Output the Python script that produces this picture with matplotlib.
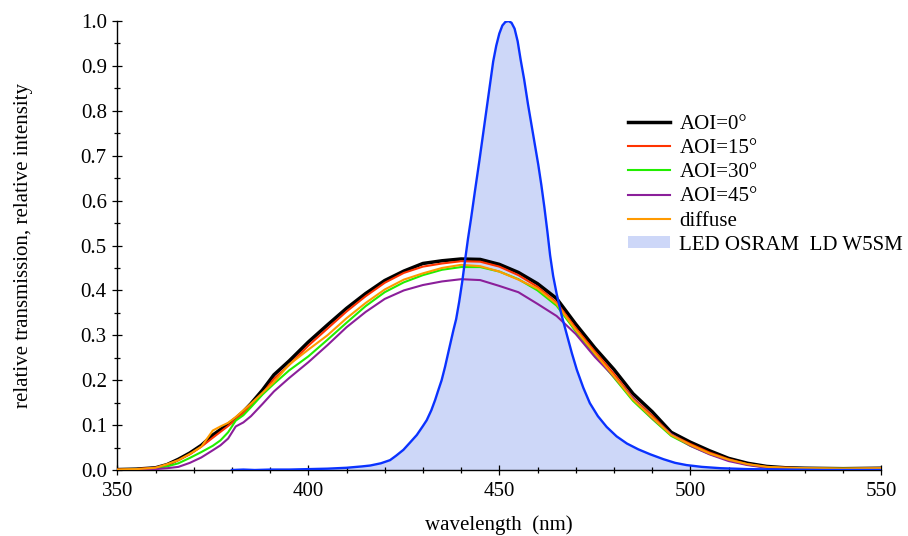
import matplotlib
matplotlib.use("Agg")
import matplotlib.pyplot as plt
from matplotlib.patches import Patch
from matplotlib.lines import Line2D
from matplotlib.ticker import MultipleLocator

plt.rcParams['font.family'] = ['Liberation Serif', 'DejaVu Serif']

# wavelength grid for the filter transmission curves (nm)
wl = [350, 355, 360, 363, 366, 369, 372, 375, 377, 379, 381, 383, 385, 388,
      391, 395, 400, 405, 410, 415, 420, 425, 430, 435, 440, 445, 450, 455,
      460, 465, 470, 475, 480, 485, 490, 495, 500, 505, 510, 515, 520, 525,
      530, 540, 550]

aoi0 = [0.001, 0.002, 0.005, 0.012, 0.024, 0.038, 0.055, 0.078, 0.090, 0.102,
        0.115, 0.130, 0.148, 0.178, 0.212, 0.243, 0.285, 0.323, 0.360, 0.393,
        0.422, 0.443, 0.460, 0.466, 0.470, 0.469, 0.458, 0.440, 0.415, 0.382,
        0.325, 0.272, 0.224, 0.170, 0.130, 0.084, 0.062, 0.043, 0.026, 0.015,
        0.008, 0.005, 0.004, 0.003, 0.004]

aoi15 = [0.001, 0.002, 0.005, 0.011, 0.022, 0.035, 0.052, 0.072, 0.085, 0.098,
         0.112, 0.127, 0.143, 0.170, 0.203, 0.234, 0.277, 0.315, 0.353, 0.387,
         0.417, 0.439, 0.453, 0.460, 0.465, 0.464, 0.453, 0.434, 0.408, 0.373,
         0.316, 0.264, 0.214, 0.161, 0.121, 0.079, 0.058, 0.039, 0.024, 0.013,
         0.007, 0.005, 0.004, 0.003, 0.004]

aoi30 = [0.000, 0.001, 0.003, 0.008, 0.015, 0.027, 0.040, 0.054, 0.066, 0.084,
         0.110, 0.122, 0.140, 0.168, 0.192, 0.222, 0.253, 0.290, 0.328, 0.365,
         0.396, 0.418, 0.434, 0.446, 0.452, 0.452, 0.442, 0.425, 0.400, 0.366,
         0.309, 0.257, 0.206, 0.154, 0.114, 0.076, 0.054, 0.036, 0.022, 0.012,
         0.006, 0.004, 0.003, 0.003, 0.003]

aoi45 = [0.000, 0.000, 0.002, 0.004, 0.007, 0.016, 0.028, 0.044, 0.055, 0.070,
         0.097, 0.106, 0.120, 0.147, 0.175, 0.205, 0.240, 0.278, 0.318, 0.352,
         0.381, 0.400, 0.412, 0.420, 0.425, 0.423, 0.410, 0.396, 0.370, 0.343,
         0.303, 0.252, 0.208, 0.160, 0.116, 0.080, 0.054, 0.035, 0.020, 0.011,
         0.005, 0.003, 0.002, 0.002, 0.003]

diffuse = [0.001, 0.002, 0.005, 0.013, 0.022, 0.036, 0.052, 0.088, 0.097,
           0.105, 0.118, 0.133, 0.148, 0.172, 0.196, 0.235, 0.268, 0.300,
           0.338, 0.372, 0.402, 0.424, 0.438, 0.450, 0.457, 0.454, 0.442,
           0.424, 0.404, 0.370, 0.312, 0.260, 0.209, 0.157, 0.117, 0.078,
           0.056, 0.037, 0.023, 0.013, 0.007, 0.005, 0.004, 0.003, 0.004]

# LED spectrum (OSRAM LD W5SM), normalised
led_wl = [380, 383, 386, 390, 395, 400, 405, 410, 414, 416.2, 419, 421.4,
          423, 424.9, 426.5, 428.4, 430, 431, 432.2, 433.2, 434, 434.9,
          435.8, 436.6, 437.3, 438, 438.7, 439.5, 440.3, 441, 441.8, 442.6,
          443.6, 444.8, 445.7, 446.6, 447.5, 448.4, 449.2, 450, 450.8, 451.6,
          452.4, 453.2, 454, 454.8, 455.6, 456.5, 457.5, 458.5, 459.3, 460.2,
          461, 461.8, 462.6, 463.3, 464.1, 465, 466.3, 467.6, 469, 470.3,
          472, 473.7, 475.8, 478.1, 480.7, 483.4, 486.4, 489.5, 493, 496,
          499, 503, 508, 515, 525, 535, 550]
led = [0.000, 0.001, 0.000, 0.001, 0.001, 0.002, 0.003, 0.005, 0.008, 0.010,
       0.015, 0.022, 0.032, 0.045, 0.060, 0.078, 0.098, 0.111, 0.133, 0.156,
       0.177, 0.200, 0.230, 0.260, 0.286, 0.312, 0.336, 0.375, 0.420, 0.465,
       0.515, 0.560, 0.620, 0.690, 0.745, 0.800, 0.855, 0.910, 0.945, 0.972,
       0.990, 0.998, 1.000, 0.996, 0.983, 0.955, 0.913, 0.870, 0.815, 0.765,
       0.725, 0.680, 0.635, 0.585, 0.530, 0.478, 0.432, 0.393, 0.345, 0.304,
       0.260, 0.223, 0.183, 0.149, 0.120, 0.096, 0.075, 0.059, 0.046, 0.035,
       0.024, 0.016, 0.011, 0.007, 0.004, 0.002, 0.001, 0.000, 0.000]

labels = ['AOI=0°', 'AOI=15°', 'AOI=30°', 'AOI=45°', 'diffuse',
          'LED OSRAM  LD W5SM']


def main():
    fig = plt.figure(figsize=(9.08, 5.36), dpi=100)
    ax = fig.add_axes([0.1292, 0.1231, 0.8414, 0.8377])

    # LED spectrum as shaded area
    ax.fill_between(led_wl, led, 0, color='#cdd7f8', lw=0, zorder=1)

    ax.plot(wl, aoi0, color='black', lw=2.5, zorder=2)
    ax.plot(wl, aoi15, color='#ff3300', lw=1.5, zorder=3)
    ax.plot(wl, aoi30, color='#22ee00', lw=1.5, zorder=3)
    ax.plot(wl, aoi45, color='#8b1f9a', lw=1.5, zorder=3)
    ax.plot(wl, diffuse, color='#ff9a00', lw=1.5, zorder=4)
    ax.plot(led_wl, led, color='#0a32ff', lw=1.7, zorder=5)

    ax.set_xlim(350, 550)
    ax.set_ylim(0, 1.0)
    ax.xaxis.set_major_locator(MultipleLocator(50))
    ax.xaxis.set_minor_locator(MultipleLocator(10))
    ax.yaxis.set_major_locator(MultipleLocator(0.1))
    ax.yaxis.set_minor_locator(MultipleLocator(0.05))
    ax.yaxis.set_major_formatter(plt.FormatStrFormatter('%.1f'))

    for s in ['top', 'right']:
        ax.spines[s].set_visible(False)
    for s in ['left', 'bottom']:
        ax.spines[s].set_linewidth(1.0)
    ax.tick_params(which='major', direction='inout', length=7.2, width=0.9,
                   labelsize=15)
    ax.tick_params(which='minor', direction='inout', length=3.8, width=0.9)
    ax.tick_params(axis='x', which='major', pad=5)
    ax.tick_params(axis='y', which='major', pad=4)

    ax.set_xlabel('wavelength  (nm)', fontsize=15, labelpad=10)
    ax.set_ylabel('relative transmission, relative intensity', fontsize=15,
                  labelpad=34)

    handles = [Line2D([], [], color='black', lw=2.5),
               Line2D([], [], color='#ff3300', lw=1.5),
               Line2D([], [], color='#22ee00', lw=1.5),
               Line2D([], [], color='#8b1f9a', lw=1.5),
               Line2D([], [], color='#ff9a00', lw=1.5),
               Patch(facecolor='#cdd7f8', edgecolor='none')]
    fig.legend(handles, labels, loc='upper left',
               bbox_to_anchor=(0.692, 0.786), frameon=False, fontsize=15,
               handlelength=2.0, handleheight=0.5, handletextpad=0.45,
               labelspacing=0.25, borderpad=0, borderaxespad=0)

    fig.savefig('out.png', dpi=100)


if __name__ == "__main__":
    main()
